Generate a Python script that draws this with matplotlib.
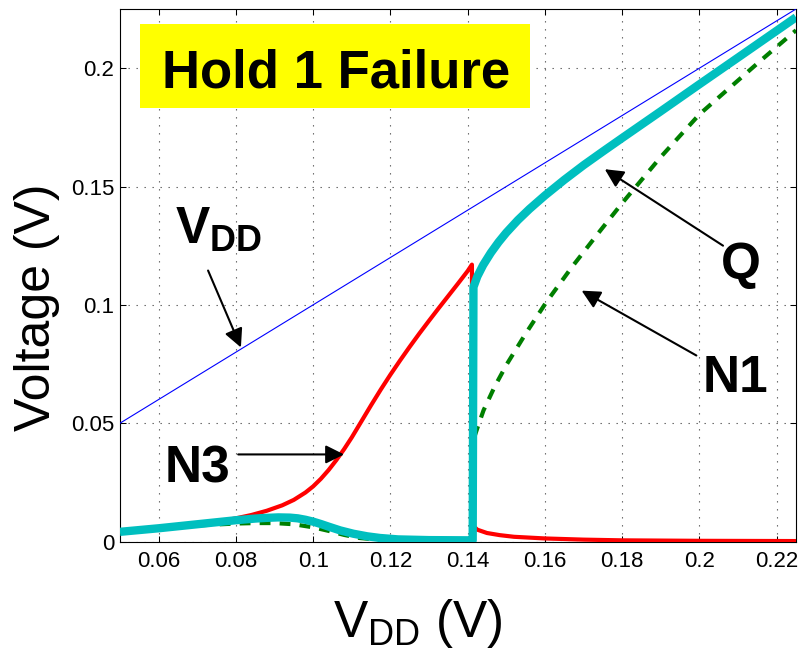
import numpy as np
import matplotlib
matplotlib.use("Agg")
import matplotlib.pyplot as plt
from matplotlib.patches import Rectangle

plt.rcParams['font.family'] = ['Liberation Sans', 'DejaVu Sans']
plt.rcParams['mathtext.fontset'] = 'custom'
plt.rcParams['mathtext.rm'] = 'Liberation Sans'
plt.rcParams['mathtext.bf'] = 'Liberation Sans:bold'

# supply line (VDD = x)
vdd_x = [0.05, 0.225]
vdd_y = [0.05, 0.225]

# node Q (cyan, thick)
q_x = [0.05, 0.06, 0.07, 0.08, 0.085, 0.088, 0.091, 0.094, 0.096, 0.098, 0.100, 0.102,
       0.104, 0.107, 0.1104, 0.114, 0.1173, 0.122, 0.13, 0.1413, 0.1415, 0.1425, 0.144,
       0.146, 0.148, 0.150, 0.153, 0.156, 0.16, 0.165, 0.17, 0.175, 0.18, 0.19, 0.2,
       0.21, 0.225]
q_y = [0.0041, 0.0056, 0.0073, 0.0090, 0.0097, 0.0100, 0.0102, 0.0101, 0.0098, 0.0092, 0.0084, 0.0074,
       0.0063, 0.0047, 0.0033, 0.0022, 0.0015, 0.0009, 0.0006, 0.0005, 0.1075, 0.1120, 0.1168,
       0.1220, 0.1265, 0.1305, 0.1358, 0.1405, 0.1462, 0.1528, 0.1590, 0.1648, 0.1705, 0.1818, 0.1932,
       0.2045, 0.2215]

# node N3 (red)
n3_x = [0.05, 0.06, 0.07, 0.075, 0.08, 0.084, 0.088, 0.092, 0.095, 0.098, 0.100, 0.102,
        0.104, 0.106, 0.108, 0.110, 0.1125, 0.115, 0.1175, 0.120, 0.1225, 0.125, 0.1275,
        0.130, 0.1325, 0.135, 0.1375, 0.1400, 0.1411, 0.1413, 0.1425, 0.145, 0.1483,
        0.152, 0.16, 0.17, 0.18, 0.2, 0.225]
n3_y = [0.0040, 0.0055, 0.0072, 0.0082, 0.0098, 0.0112, 0.0130, 0.0153, 0.0176, 0.0207, 0.0233, 0.0265,
        0.0302, 0.0344, 0.0390, 0.0440, 0.0508, 0.0576, 0.0642, 0.0705, 0.0765, 0.0823, 0.0879,
        0.0933, 0.0986, 0.1038, 0.1090, 0.1143, 0.1170, 0.0068, 0.0050, 0.0036, 0.0027,
        0.0020, 0.0013, 0.0008, 0.0005, 0.0003, 0.0002]

# node N1 (green dashed)
n1_x = [0.05, 0.06, 0.07, 0.08, 0.085, 0.09, 0.095, 0.1, 0.104, 0.108, 0.112, 0.118,
        0.125, 0.1414, 0.1415, 0.1426, 0.1441, 0.147, 0.1502, 0.155, 0.1603, 0.167,
        0.1743, 0.18, 0.19, 0.2, 0.2157, 0.225]
n1_y = [0.0040, 0.0055, 0.0068, 0.0076, 0.0078, 0.0078, 0.0073, 0.0060, 0.0045, 0.0028, 0.0015, 0.0006,
        0.0002, 0.0001, 0.0430, 0.0484, 0.0554, 0.0655, 0.0751, 0.0878, 0.1010, 0.1160,
        0.1313, 0.1430, 0.1625, 0.1805, 0.2030, 0.2160]

x_ticks = [0.06, 0.08, 0.1, 0.12, 0.14, 0.16, 0.18, 0.2, 0.22]
x_ticklabels = ["0.06", "0.08", "0.1", "0.12", "0.14", "0.16", "0.18", "0.2", "0.22"]
y_ticks = [0, 0.05, 0.1, 0.15, 0.2]
y_ticklabels = ["0", "0.05", "0.1", "0.15", "0.2"]

fig = plt.figure(figsize=(8.01, 6.56), dpi=100)
ax = fig.add_axes([0.1498, 0.1745, 0.8440, 0.8118])

ax.plot(vdd_x, vdd_y, color="#0000ff", lw=0.8, zorder=3)
ax.plot(n3_x, n3_y, color="#ff0000", lw=3.0, zorder=4)
ax.plot(n1_x, n1_y, color="#007f00", lw=3.0, dashes=(2.6, 2.2),
        dash_capstyle="butt", zorder=5)
ax.plot(q_x, q_y, color="#00bfbf", lw=6.0, zorder=6, solid_capstyle="butt",
        solid_joinstyle="round")

ax.set_xlim(0.05, 0.225)
ax.set_ylim(0, 0.225)
ax.set_xticks(x_ticks)
ax.set_xticklabels(x_ticklabels)
ax.set_yticks(y_ticks)
ax.set_yticklabels(y_ticklabels)
ax.tick_params(direction="in", length=4.5, width=0.75, labelsize=16,
               top=True, right=True, colors="black")
ax.tick_params(axis="x", pad=7)
ax.tick_params(axis="y", pad=4)
ax.grid(True, color="0.35", lw=0.8, linestyle=(0, (1.2, 6)))
for s in ax.spines.values():
    s.set_linewidth(0.8)

ax.set_xlabel(r"$\mathrm{V_{DD}}$ (V)", fontsize=37)
ax.set_ylabel("Voltage (V)", fontsize=36)
ax.xaxis.set_label_coords(0.441, -0.105)
ax.yaxis.set_label_coords(-0.089, 0.44)

# title box
ax.add_patch(Rectangle((0.0296, 0.814), 0.577, 0.158, transform=ax.transAxes,
                       facecolor="#ffff00", edgecolor="none", zorder=7))
ax.text(0.3195, 0.8535, "Hold 1 Failure", transform=ax.transAxes, fontsize=38,
        fontweight="bold", ha="center", va="baseline", zorder=8)

arrow = dict(arrowstyle="-|>", color="black", lw=1.5, mutation_scale=28,
             shrinkA=0, shrinkB=0)
ax.text(0.0616, 0.0248, "N3", fontsize=37, fontweight="bold", ha="left", va="baseline", zorder=8)
ax.annotate("", xy=(0.108, 0.0368), xytext=(0.0806, 0.0368), arrowprops=arrow, zorder=8)

ax.text(0.0642, 0.1257, r"$\mathbf{V_{DD}}$", fontsize=37, ha="left", va="baseline", zorder=8)
ax.annotate("", xy=(0.0813, 0.0820), xytext=(0.0728, 0.1145), arrowprops=arrow, zorder=8)

ax.text(0.2055, 0.1111, "Q", fontsize=37, fontweight="bold", ha="left", va="baseline", zorder=8)
ax.annotate("", xy=(0.1755, 0.1573), xytext=(0.2061, 0.1250), arrowprops=arrow, zorder=8)

ax.text(0.2008, 0.0632, "N1", fontsize=37, fontweight="bold", ha="left", va="baseline", zorder=8)
ax.annotate("", xy=(0.1695, 0.1060), xytext=(0.1992, 0.0786), arrowprops=arrow, zorder=8)

fig.savefig("out.png", dpi=100)
